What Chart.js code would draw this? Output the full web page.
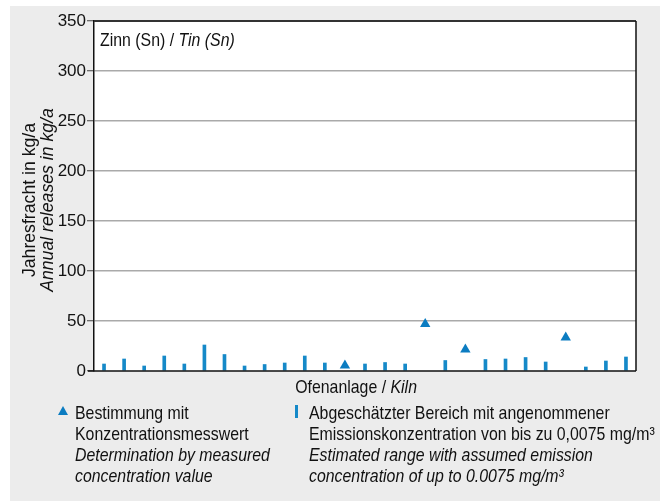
<!DOCTYPE html>
<html lang="de">
<head>
    <meta charset="UTF-8">
    <title>Zinn (Sn) / Tin (Sn)</title>
    <script src="https://cdn.jsdelivr.net/npm/chart.js"></script>
    <style>
        body {
            margin: 0;
            background: #ffffff;
            font-family: 'Liberation Sans', Arial, sans-serif;
            color: #111;
        }
        #wrap {
            position: relative;
            width: 667px;
            height: 502px;
        }
        #panel {
            position: absolute;
            left: 10px;
            top: 6px;
            width: 650px;
            height: 495px;
            background: #ececec;
        }
        canvas {
            position: absolute;
            left: 0;
            top: 0;
        }
        /* narrow look: Arial metrics squeezed horizontally */
        .txt {
            position: absolute;
            font-size: 19px;
            line-height: 21px;
            white-space: nowrap;
            transform-origin: 0 0;
            transform: scaleX(0.835);
        }
        #ytitle {
            left: 38px;
            top: 200px;
            transform-origin: 50% 50%;
            transform: translate(-50%, -50%) rotate(-90deg) scaleX(0.93);
            text-align: center;
            line-height: 18px;
        }
        #xtitle {
            left: 355px;
            top: 376px;
            transform: translateX(-41%) scaleX(0.835);
        }
        .tri {
            position: absolute;
            width: 0;
            height: 0;
            border-left: 5px solid transparent;
            border-right: 5px solid transparent;
            border-bottom: 9px solid #0b7cc1;
        }
        .bar {
            position: absolute;
            width: 3px;
            height: 13px;
            background: #1589c8;
        }
    </style>
</head>
<body>
<div id="wrap">
    <div id="panel"></div>
    <canvas id="chart" width="667" height="502"></canvas>

    <div class="txt" style="left:100px; top:29px;">Zinn (Sn) / <i>Tin (Sn)</i></div>
    <div class="txt" id="ytitle">Jahresfracht in kg/a<br><i>Annual releases in kg/a</i></div>
    <div class="txt" id="xtitle">Ofenanlage / <i>Kiln</i></div>

    <div class="tri" style="left:58px; top:406px;"></div>
    <div class="txt" style="left:75px; top:402px;">
        Bestimmung mit<br>Konzentrationsmesswert<br><i>Determination by measured</i><br><i>concentration value</i>
    </div>
    <div class="bar" style="left:295px; top:405px;"></div>
    <div class="txt" style="left:309px; top:402px;">
        Abgeschätzter Bereich mit angenommener<br>Emissionskonzentration von bis zu 0,0075 mg/m³<br><i>Estimated range with assumed emission</i><br><i>concentration of up to 0.0075 mg/m³</i>
    </div>
</div>

<script>
    // one entry per kiln
    const kilns = Array.from({ length: 27 }, (_, i) => String(i + 1));

    // estimated range (bars), null where a measured value exists
    const estimatedRange = [7, 12, 5, 15, 7, 26, 16.5, 5, 6.5, 8, 15, 8, null, 7, 8.5, 7, null, 10.5, null, 11.5, 12, 13.5, 9, null, 4, 10, 14];

    // measured values (triangles)
    const measured = [null, null, null, null, null, null, null, null, null, null, null, null, 5.5, null, null, null, 47, null, 21.5, null, null, null, null, 33.5, null, null, null];

    const yTicks = [0, 50, 100, 150, 200, 250, 300, 350];

    const fontFamily = "'Liberation Sans', Arial, sans-serif";

    // white plot area and the dark frame around it
    const framePlugin = {
        id: 'frame',
        beforeDraw(chart) {
            const { ctx, chartArea: a } = chart;
            ctx.save();
            ctx.fillStyle = '#ffffff';
            ctx.fillRect(a.left, a.top, a.right - a.left, a.bottom - a.top);
            ctx.restore();
        },
        afterDatasetsDraw(chart) {
            const { ctx, chartArea: a } = chart;
            ctx.save();
            ctx.strokeStyle = '#333';
            ctx.lineWidth = 2;
            ctx.beginPath();
            ctx.moveTo(a.left, a.top);
            ctx.lineTo(a.right, a.top);
            ctx.stroke();
            ctx.strokeStyle = '#111';
            ctx.lineWidth = 1.5;
            ctx.beginPath();
            ctx.moveTo(a.right, a.top);
            ctx.lineTo(a.right, a.bottom);
            ctx.moveTo(a.left - 6, a.bottom);
            ctx.lineTo(a.right, a.bottom);
            ctx.stroke();
            ctx.restore();
        }
    };

    new Chart(document.getElementById('chart'), {
        data: {
            labels: kilns,
            datasets: [
                {
                    type: 'bar',
                    label: 'Abgeschätzter Bereich',
                    data: estimatedRange,
                    backgroundColor: '#1589c8',
                    barThickness: 3,
                    order: 2
                },
                {
                    type: 'line',
                    label: 'Bestimmung mit Konzentrationsmesswert',
                    data: measured,
                    showLine: false,
                    pointStyle: 'triangle',
                    pointRadius: 6,
                    pointBackgroundColor: '#0b7cc1',
                    pointBorderColor: '#0b7cc1',
                    pointBorderWidth: 0,
                    order: 1
                }
            ]
        },
        options: {
            responsive: false,
            animation: false,
            events: [],
            layout: { padding: { left: 0, top: 21, right: 31, bottom: 131 } },
            plugins: {
                legend: { display: false },
                tooltip: { enabled: false }
            },
            scales: {
                x: {
                    type: 'category',
                    offset: true,
                    display: false
                },
                y: {
                    min: 0,
                    max: 350,
                    afterFit(scale) { scale.width = 94; },
                    afterBuildTicks(scale) { scale.ticks = yTicks.map(v => ({ value: v })); },
                    border: { display: true, color: '#111', width: 1.5 },
                    grid: {
                        color: ctx => (ctx.tick && (ctx.tick.value === 0 || ctx.tick.value === 350)) ? 'rgba(0,0,0,0)' : '#aaaaaa',
                        lineWidth: 1.5,
                        tickLength: 7,
                        tickColor: '#444',
                        tickWidth: 1
                    },
                    ticks: {
                        color: '#111',
                        padding: 1,
                        font: { family: fontFamily, size: 17 }
                    }
                }
            }
        },
        plugins: [framePlugin]
    });
</script>
</body>
</html>
